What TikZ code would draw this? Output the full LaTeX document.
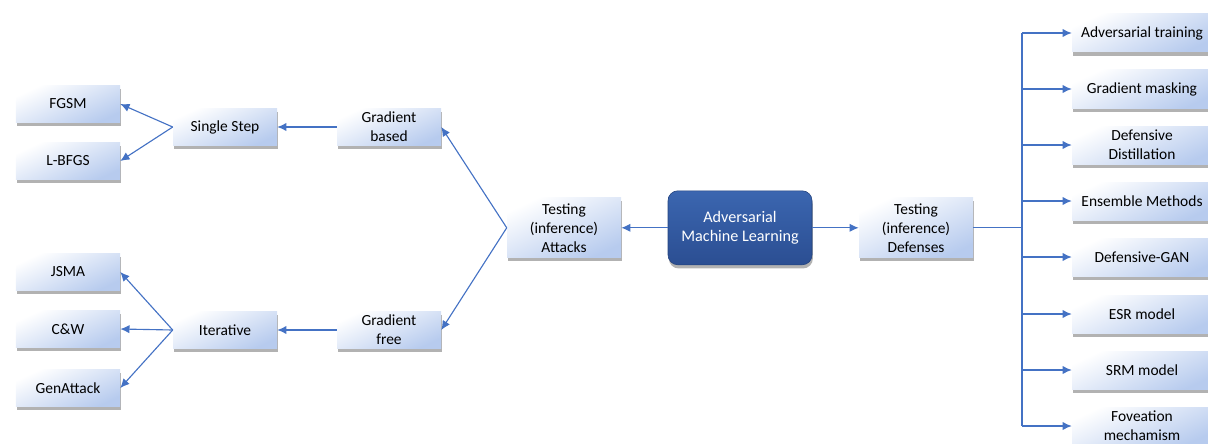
\documentclass[tikz,border=0pt]{standalone}
\usepackage{fontspec}
\setmainfont{Carlito}
\usetikzlibrary{positioning}
\usetikzlibrary{shadows}
\usetikzlibrary{arrows.meta}

\definecolor{LinkBlue}{HTML}{4472C4}
\definecolor{BoxBlue}{HTML}{B7CBEE}
\definecolor{AmlTop}{HTML}{3B66B0}
\definecolor{AmlBottom}{HTML}{2B4E92}
\definecolor{AmlEdge}{HTML}{24437E}

\begin{document}
\begin{tikzpicture}[
	box/.style={rectangle, top color=white, bottom color=BoxBlue, shading angle=25, drop shadow={shadow xshift=0.6pt, shadow yshift=-2.6pt, fill=black!60, opacity=0.5}, minimum height=0.925cm, minimum width=2.6cm, align=center, inner sep=1pt, font=\fontsize{11}{13.5}\selectfont},
	tallbox/.style={box, minimum height=1.5cm, minimum width=2.85cm},
	defbox/.style={box, minimum height=0.95cm, minimum width=3.5cm},
	amlbox/.style={rectangle, rounded corners=7pt, top color=AmlTop, bottom color=AmlBottom, draw=AmlEdge, thin, drop shadow={shadow xshift=0.6pt, shadow yshift=-2.6pt, fill=black!60, opacity=0.5}, minimum height=1.85cm, minimum width=3.6cm, align=center, text=white, font=\fontsize{11.5}{14}\selectfont},
	line/.style={LinkBlue, line width=0.8pt},
	link/.style={line, -{Latex[length=2.3mm, width=2.1mm]}}
]

\useasboundingbox (0,0) rectangle (30.2,11.075);

%\draw[step=1cm, gray, very thin, dotted] (0,0) grid (30,11);

% centre
\node at (18.5,5.38) [amlbox] (aml) {Adversarial\\ Machine Learning};
\node at (14.1,5.38) [tallbox] (attacks) {Testing\\ (inference)\\ Attacks};
\node at (22.9,5.38) [tallbox] (defenses) {Testing\\ (inference)\\ Defenses};

% attack side
\node at (9.725,7.9) [box] (gbased) {Gradient\\ based};
\node at (9.725,2.825) [box] (gfree) {Gradient\\ free};
\node at (5.625,7.9) [box] (single) {Single Step};
\node at (5.625,2.825) [box] (iter) {Iterative};

\node at (1.7,8.475) [box] (fgsm) {FGSM};
\node at (1.7,7.05) [box] (lbfgs) {L-BFGS};
\node at (1.7,4.275) [box] (jsma) {JSMA};
\node at (1.7,2.85) [box] (cw) {C\&W};
\node at (1.7,1.375) [box] (genattack) {GenAttack};

% defense side
\node at (28.55,10.25) [defbox] (d1) {Adversarial training};
\node at (28.55,8.85) [defbox] (d2) {Gradient masking};
\node at (28.55,7.45) [defbox] (d3) {Defensive\\ Distillation};
\node at (28.55,6.05) [defbox] (d4) {Ensemble Methods};
\node at (28.55,4.65) [defbox] (d5) {Defensive-GAN};
\node at (28.55,3.225) [defbox] (d6) {ESR model};
\node at (28.55,1.825) [defbox] (d7) {SRM model};
\node at (28.55,0.425) [defbox] (d8) {Foveation\\ mechamism};

\draw[link] (aml.west) -- (attacks.east);
\draw[link] (aml.east) -- (defenses.west);

\draw[link] (attacks.west) -- (gbased.east);
\draw[link] (attacks.west) -- (gfree.east);
\draw[link] (gbased.west) -- (single.east);
\draw[link] (gfree.west) -- (iter.east);

\draw[link] (single.west) -- (fgsm.east);
\draw[link] (single.west) -- (lbfgs.east);
\draw[link] (iter.west) -- (jsma.east);
\draw[link] (iter.west) -- (cw.east);
\draw[link] (iter.west) -- (genattack.east);

\coordinate (trunk) at (25.55,5.38);
\draw[line] (defenses.east) -- (trunk);
\draw[line] (trunk |- d1.west) -- (trunk |- d8.west);
\foreach \d in {d1,d2,d3,d4,d5,d6,d7,d8}
	\draw[link] (trunk |- \d.west) -- (\d.west);

\end{tikzpicture}
\end{document}
